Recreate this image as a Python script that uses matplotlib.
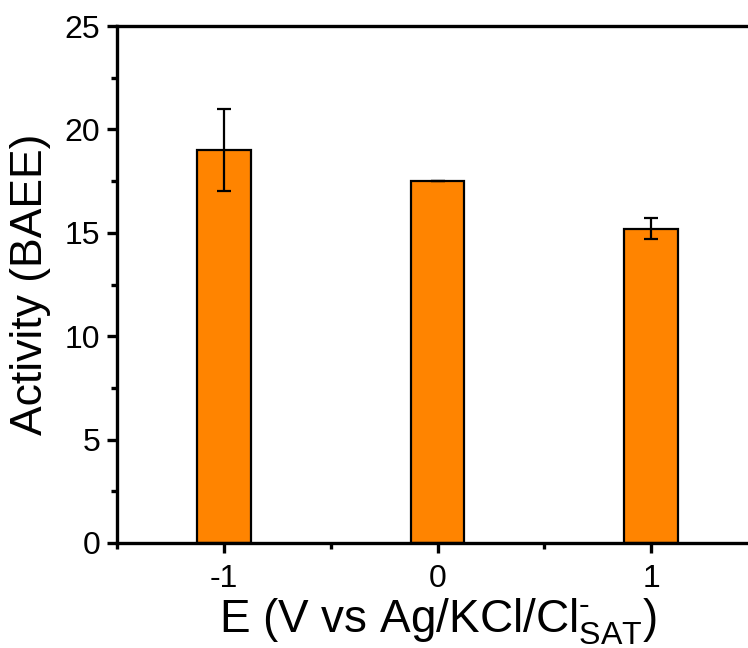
import numpy as np
import matplotlib
matplotlib.use('Agg')
import matplotlib.pyplot as plt
from matplotlib.ticker import MultipleLocator

potentials = [-1, 0, 1]
tick_labels = ['-1', '0', '1']
activity = [19.0, 17.5, 15.2]
activity_err = [2.0, 0.0, 0.5]

plt.rcParams['font.family'] = ['Liberation Sans', 'DejaVu Sans']
plt.rcParams['mathtext.fontset'] = 'custom'
plt.rcParams['mathtext.rm'] = 'Liberation Sans'
plt.rcParams['mathtext.it'] = 'Liberation Sans'

fig = plt.figure(figsize=(7.48, 6.48), dpi=100)
ax = fig.add_axes([117 / 748, 105 / 648, 641 / 748, 517 / 648])

ax.bar(potentials, activity, width=0.25, color='#FF8400', edgecolor='black', linewidth=1.6, zorder=2)
ax.errorbar(potentials, activity, yerr=activity_err, fmt='none', ecolor='black',
            elinewidth=1.6, capsize=5, capthick=1.6, zorder=3)

ax.set_xlim(-1.5, 1.5)
ax.set_ylim(0, 25)
ax.set_xticks(potentials)
ax.set_xticklabels(tick_labels)
ax.xaxis.set_minor_locator(MultipleLocator(0.5))
ax.yaxis.set_major_locator(MultipleLocator(5))
ax.yaxis.set_minor_locator(MultipleLocator(2.5))

for side in ax.spines.values():
    side.set_linewidth(2.4)

ax.tick_params(axis='both', which='major', direction='out', length=7, width=2.4, labelsize=23)
ax.tick_params(axis='both', which='minor', direction='out', length=4, width=2.4)
ax.tick_params(axis='x', which='major', pad=8)
ax.tick_params(axis='y', which='major', pad=5)
ax.tick_params(top=False, right=False, which='both')

ax.set_ylabel('Activity (BAEE)', fontsize=32, labelpad=10)
ax.set_xlabel('E (V vs Ag/KCl/Cl$^{\u2010}_{\\mathrm{SAT}}$)', fontsize=33, labelpad=2)

fig.savefig('out.png', dpi=100)
